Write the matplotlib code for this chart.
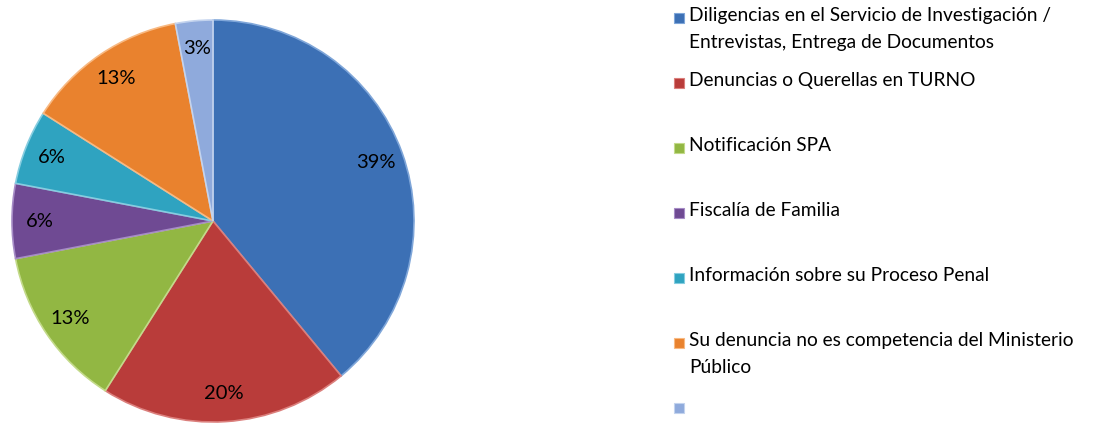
import matplotlib.pyplot as plt
from matplotlib.patches import Rectangle

# share of requests per service (percent)
labels = ['Diligencias en el Servicio de Investigación /\nEntrevistas, Entrega de Documentos',
          'Denuncias o Querellas en TURNO',
          'Notificación SPA',
          'Fiscalía de Familia',
          'Información sobre su Proceso Penal',
          'Su denuncia no es competencia del Ministerio\nPúblico',
          '']
values = [39, 20, 13, 6, 6, 13, 3]
colors = ['#3C70B5', '#B93C3A', '#92B743', '#6F4A93', '#2FA3C0', '#E9822E', '#8FAADC']
edges = ['#7FA6D9', '#DB7F7C', '#C3DA8A', '#A68CC6', '#86CDE0', '#F8B982', '#C3D3EE']

plt.rcParams['font.family'] = ['Lato', 'DejaVu Sans']

fig = plt.figure(figsize=(11.11, 4.23), dpi=100)
ax = fig.add_axes([10 / 1111, -1 / 423, 406 / 1111, 406 / 423])

wedges, texts, autotexts = ax.pie(values, colors=colors, startangle=90, counterclock=False,
                                  autopct='%1.0f%%', pctdistance=0.86,
                                  wedgeprops=dict(linewidth=1.2),
                                  textprops=dict(fontsize=14.5, color='black'))
for w, e in zip(wedges, edges):
    w.set_edgecolor(e)
ax.set_xlim(-1.01, 1.01)
ax.set_ylim(-1.01, 1.01)
ax.set_aspect('equal')
ax.axis('off')

# legend drawn by hand so each entry starts on an even step like the original
x_box = 674 / 1111
x_txt = 689 / 1111
top = 1 - 18 / 423
step = 65 / 423
for i, (lab, col) in enumerate(zip(labels, colors)):
    y = top - i * step
    fig.patches.append(Rectangle((x_box, y - 5 / 423), 10 / 1111, 10 / 423,
                                 transform=fig.transFigure, facecolor=col,
                                 edgecolor=edges[i], linewidth=0.8))
    fig.text(x_txt, y + 11 / 423, lab, fontsize=13.8, va='top', ha='left',
             linespacing=1.73)

plt.savefig('out.png', dpi=100)
